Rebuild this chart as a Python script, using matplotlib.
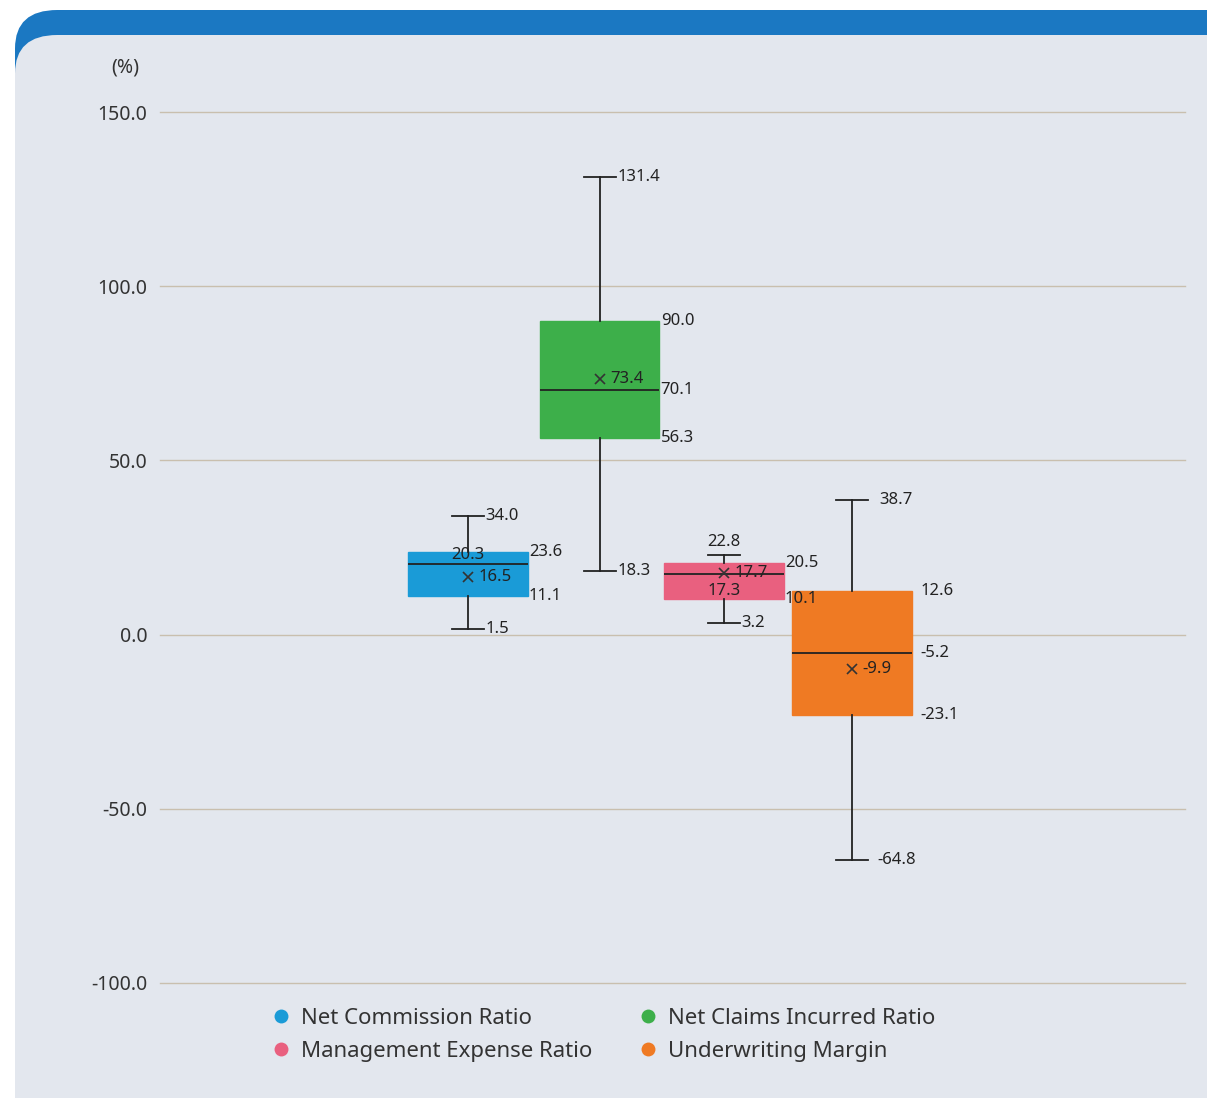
import matplotlib.pyplot as plt
from matplotlib.patches import FancyBboxPatch
from matplotlib.lines import Line2D

plt.rcParams['font.family'] = ['Noto Sans', 'DejaVu Sans']

# data (%)
names = ['Net Commission Ratio', 'Net Claims Incurred Ratio',
         'Management Expense Ratio', 'Underwriting Margin']
colors = ['#1a9bd7', '#3daf4a', '#e9607f', '#ef7a23']
mins = [1.5, 18.3, 3.2, -64.8]
q1s = [11.1, 56.3, 10.1, -23.1]
meds = [20.3, 70.1, 17.3, -5.2]
means = [16.5, 73.4, 17.7, -9.9]
q3s = [23.6, 90.0, 20.5, 12.6]
maxs = [34.0, 131.4, 22.8, 38.7]
yticks = [-100, -50, 0, 50, 100, 150]

W, H = 1207, 1098
fig = plt.figure(figsize=(W / 100, H / 100), dpi=100)
fig.patch.set_facecolor('white')

# card background with blue top band
fig.patches.append(FancyBboxPatch((15 / W, -0.1), 1.2, 1 - 10 / H + 0.1,
                                  boxstyle='round,pad=0,rounding_size=0.035',
                                  transform=fig.transFigure, facecolor='#1b78c2',
                                  edgecolor='none', zorder=-2))
fig.patches.append(FancyBboxPatch((15 / W, -0.1), 1.2, 1 - 35 / H + 0.1,
                                  boxstyle='round,pad=0,rounding_size=0.035',
                                  transform=fig.transFigure, facecolor='#e3e7ee',
                                  edgecolor='none', zorder=-1))

ax = fig.add_axes([160 / W, (H - 983) / H, 1025 / W, 871 / H])
ax.set_facecolor('none')

pos = [1, 2.03, 3, 4]
stats = []
for i in range(4):
    stats.append({'label': names[i], 'whislo': mins[i], 'q1': q1s[i], 'med': meds[i],
                  'mean': means[i], 'q3': q3s[i], 'whishi': maxs[i]})

bp = ax.bxp(stats, positions=pos, widths=0.93, patch_artist=True, showmeans=True,
            showfliers=False,
            medianprops=dict(color='#222222', linewidth=1.3),
            whiskerprops=dict(color='#222222', linewidth=1.3),
            capprops=dict(color='#222222', linewidth=1.3),
            capwidths=0.25,
            meanprops=dict(marker='x', markeredgecolor='#333333', markersize=7,
                           markeredgewidth=1.2))
for patch, c in zip(bp['boxes'], colors):
    patch.set_facecolor(c)
    patch.set_edgecolor(c)
    patch.set_zorder(2)

fs = 12
tc = '#222222'
for i, p in enumerate(pos):
    right = p + 0.465 + (0.07 if i == 3 else 0.01)
    cap = p + 0.125
    # box edge labels
    ax.text(right, q3s[i], f'{q3s[i]:.1f}', ha='left', va='center', fontsize=fs, color=tc, zorder=5)
    ax.text(right, q1s[i], f'{q1s[i]:.1f}', ha='left', va='center', fontsize=fs, color=tc, zorder=5)
    # mean label
    ax.text(p + 0.08, means[i], f'{means[i]:.1f}', ha='left', va='center', fontsize=fs, color=tc, zorder=5)
    # whisker labels
    if i == 2:
        ax.text(p, maxs[i] + 1.5, f'{maxs[i]:.1f}', ha='center', va='bottom', fontsize=fs, color=tc)
    elif i == 3:
        ax.text(cap + 0.09, maxs[i], f'{maxs[i]:.1f}', ha='left', va='center', fontsize=fs, color=tc)
    else:
        ax.text(cap + 0.01, maxs[i], f'{maxs[i]:.1f}', ha='left', va='center', fontsize=fs, color=tc)
    gap = 0.07 if i == 3 else 0.01
    ax.text(cap + gap, mins[i], f'{mins[i]:.1f}', ha='left', va='center', fontsize=fs, color=tc)
    # median labels
    if i == 0:
        ax.text(p, meds[i] + 0.3, f'{meds[i]:.1f}', ha='center', va='bottom', fontsize=fs, color=tc, zorder=5)
    elif i == 2:
        ax.text(p, meds[i] - 2.5, f'{meds[i]:.1f}', ha='center', va='top', fontsize=fs, color=tc, zorder=5)
    else:
        ax.text(right, meds[i], f'{meds[i]:.1f}', ha='left', va='center', fontsize=fs, color=tc, zorder=5)

ax.set_xlim(1 - 308 / 128, 1 + 717 / 128)
ax.set_ylim(-100, 150)
ax.set_yticks(yticks)
ax.set_yticklabels([f'{v:.1f}' for v in yticks], fontsize=14, color='#333333')
ax.set_xticks([])
ax.tick_params(axis='y', length=0, pad=9)
ax.grid(axis='y', color='#c9bfae', linewidth=1)
for gl in ax.get_ygridlines():
    gl.set_clip_on(False)
ax.set_axisbelow(True)
for s in ax.spines.values():
    s.set_visible(False)

fig.text(125 / W, 1 - 68 / H, '(%)', ha='center', va='center', fontsize=14, color='#333333')

order = [0, 2, 1, 3]
handles = [Line2D([], [], marker='o', linestyle='', markersize=10,
                  markerfacecolor=colors[k], markeredgecolor='none') for k in order]
fig.legend(handles, [names[k] for k in order], ncol=2, loc='center left',
           bbox_to_anchor=(250 / W, 1 - 1035 / H), frameon=False, fontsize=16,
           handletextpad=0.4, columnspacing=2.0, labelspacing=0.55,
           handlelength=1.0, labelcolor='#333333')

fig.savefig('out.png', dpi=100)
